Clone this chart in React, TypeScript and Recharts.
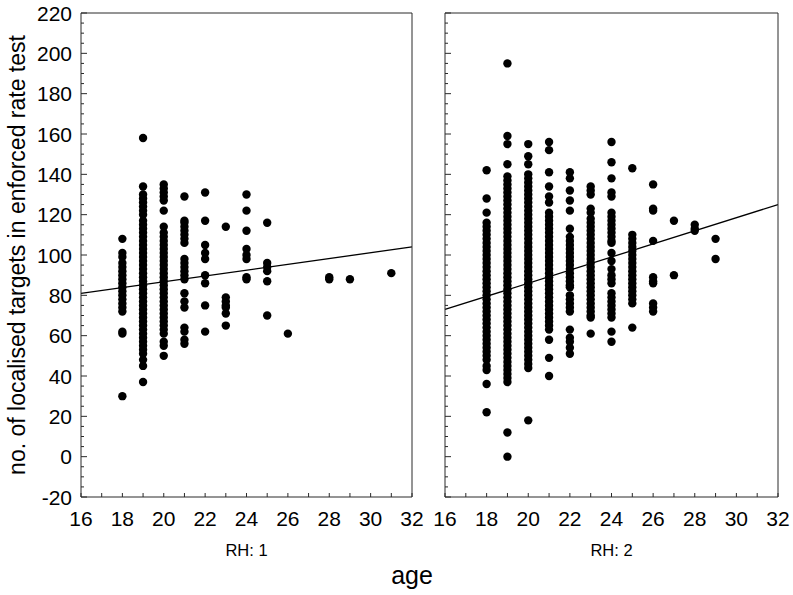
import { ScatterChart, Scatter, XAxis, YAxis, ReferenceLine } from "recharts";

const FONT = "'Liberation Sans', Arial, Helvetica, sans-serif";
const INK = "#2a2a2a";

const xTicks = [16, 17, 18, 19, 20, 21, 22, 23, 24, 25, 26, 27, 28, 29, 30, 31, 32];
const yTicks = [
  -20, -15, -10, -5, 0, 5, 10, 15, 20, 25, 30, 35, 40, 45, 50, 55, 60, 65, 70, 75, 80, 85,
  90, 95, 100, 105, 110, 115, 120, 125, 130, 135, 140, 145, 150, 155, 160, 165, 170, 175,
  180, 185, 190, 195, 200, 205, 210, 215, 220,
];

// RH: 1
const ages1 = [18, 19, 20, 21, 22, 23, 24, 25, 26, 28, 29, 31];
const scores1 = [
  [108, 101, 99, 96, 94, 92, 90, 88, 86, 84, 82, 80, 78, 76, 74, 72, 62, 61, 30],
  [158, 134, 130, 128, 126, 124, 122, 120, 117, 115, 113, 111, 109, 107, 105, 103, 101, 99, 97,
    95, 93, 91, 89, 87, 85, 83, 81, 79, 77, 75, 73, 71, 69, 67, 65, 63, 61, 59, 57, 55, 53, 51,
    48, 45, 37],
  [135, 133, 131, 129, 127, 122, 114, 111, 109, 107, 105, 103, 101, 99, 97, 95, 93, 91, 89, 87,
    85, 83, 81, 79, 77, 75, 73, 71, 69, 67, 65, 63, 61, 57, 55, 50],
  [129, 117, 116, 114, 112, 110, 108, 106, 98, 96, 94, 92, 90, 88, 81, 77, 74, 64, 62, 58, 56],
  [131, 117, 105, 101, 98, 90, 86, 75, 62],
  [114, 79, 77, 75, 74, 71, 65],
  [130, 122, 112, 103, 100, 98, 89, 88],
  [116, 96, 94, 92, 87, 70],
  [61],
  [89, 88],
  [88],
  [91],
];
const line1 = [
  { age: 16, score: 81 },
  { age: 32, score: 104 },
];

// RH: 2
const ages2 = [18, 19, 20, 21, 22, 23, 24, 25, 26, 27, 28, 29];
const scores2 = [
  [142, 128, 121, 116, 114, 112, 110, 108, 106, 104, 102, 100, 98, 96, 94, 92, 90, 88, 86, 84,
    82, 80, 78, 76, 74, 72, 70, 68, 66, 64, 62, 60, 58, 56, 54, 52, 50, 48, 45, 43, 36, 22],
  [195, 159, 155, 145, 139, 137, 135, 133, 131, 129, 127, 125, 123, 121, 119, 117, 115, 113,
    111, 109, 107, 105, 103, 101, 99, 97, 95, 93, 91, 89, 87, 85, 83, 81, 79, 77, 75, 73, 71,
    69, 67, 65, 63, 61, 59, 57, 55, 53, 51, 49, 47, 45, 43, 41, 39, 37, 12, 0],
  [155, 149, 145, 140, 138, 136, 134, 132, 130, 128, 126, 124, 122, 120, 118, 116, 114, 112,
    110, 108, 106, 104, 102, 100, 98, 96, 94, 92, 90, 88, 86, 84, 82, 80, 78, 76, 74, 72, 70,
    68, 66, 64, 62, 60, 58, 56, 54, 52, 50, 48, 46, 44, 18],
  [156, 152, 141, 134, 129, 126, 121, 119, 117, 115, 113, 111, 109, 107, 105, 103, 101, 99, 97,
    95, 93, 91, 89, 87, 85, 83, 81, 79, 77, 75, 73, 71, 69, 67, 65, 63, 58, 49, 40],
  [141, 138, 132, 127, 122, 113, 109, 107, 105, 103, 101, 99, 97, 95, 93, 91, 89, 87, 85, 84,
    80, 78, 76, 74, 72, 63, 59, 57, 54, 51],
  [134, 132, 130, 123, 121, 118, 116, 114, 112, 110, 108, 106, 104, 102, 100, 98, 96, 94, 92,
    90, 88, 86, 84, 82, 80, 78, 76, 74, 72, 70, 69, 61],
  [156, 146, 138, 131, 129, 121, 119, 117, 115, 113, 111, 109, 107, 106, 101, 97, 93, 90, 88,
    86, 81, 79, 77, 75, 73, 71, 69, 62, 57],
  [143, 110, 108, 106, 104, 102, 100, 98, 96, 94, 92, 90, 88, 86, 84, 82, 80, 78, 76, 64],
  [135, 123, 122, 107, 89, 87, 86, 76, 74, 72],
  [117, 90],
  [115, 113, 112],
  [108, 98],
];
const line2 = [
  { age: 16, score: 73 },
  { age: 32, score: 125 },
];

const points1 = ages1.flatMap((age, i) => scores1[i].map((score) => ({ age, score })));
const points2 = ages2.flatMap((age, i) => scores2[i].map((score) => ({ age, score })));

function Dot(props: any) {
  if (props.cx == null || props.cy == null) return null;
  return <circle cx={props.cx} cy={props.cy} r={4.2} fill="#000" />;
}

function YTick(props: any) {
  const { x, y, payload, side, labels } = props;
  const v = payload.value;
  const major = v % 20 === 0;
  const len = major ? 6 : 3;
  const dir = side === "left" ? 1 : -1;
  return (
    <g>
      <line x1={x} x2={x + dir * len} y1={y} y2={y} stroke={INK} />
      {labels && major && (
        <text x={x - 9} y={y} dy="0.36em" textAnchor="end" fontSize={21} fontFamily={FONT} fill="#000">
          {v}
        </text>
      )}
    </g>
  );
}

interface PanelProps {
  points: { age: number; score: number }[];
  line: { age: number; score: number }[];
  left: number;
  width: number;
  marginLeft: number;
  marginRight: number;
  yAxisWidth: number;
  labels: boolean;
}

function Panel({ points, line, left, width, marginLeft, marginRight, yAxisWidth, labels }: PanelProps) {
  return (
    <div style={{ position: "absolute", left, top: 0 }}>
      <ScatterChart
        width={width}
        height={595}
        margin={{ top: 12, right: marginRight, bottom: 0, left: marginLeft }}
      >
        <XAxis
          xAxisId="bottom"
          type="number"
          dataKey="age"
          domain={[16, 32]}
          ticks={xTicks}
          interval={0}
          height={98}
          tickSize={-4}
          tickMargin={18}
          axisLine={{ stroke: INK }}
          tickLine={{ stroke: INK }}
          tick={{ fontSize: 21, fill: "#000", fontFamily: FONT }}
          tickFormatter={(v: number) => (v % 2 === 0 ? String(v) : "")}
        />
        <XAxis
          xAxisId="top"
          orientation="top"
          type="number"
          domain={[16, 32]}
          ticks={xTicks}
          interval={0}
          height={1}
          tickSize={-4}
          axisLine={{ stroke: INK }}
          tickLine={{ stroke: INK }}
          tick={false}
        />
        <YAxis
          yAxisId="left"
          type="number"
          dataKey="score"
          domain={[-20, 220]}
          ticks={yTicks}
          interval={0}
          width={yAxisWidth}
          tickSize={0}
          tickMargin={0}
          tickLine={false}
          axisLine={{ stroke: INK }}
          tick={(p: any) => <YTick {...p} side="left" labels={labels} />}
        />
        <YAxis
          yAxisId="right"
          orientation="right"
          type="number"
          domain={[-20, 220]}
          ticks={yTicks}
          interval={0}
          width={1}
          tickSize={0}
          tickMargin={0}
          tickLine={false}
          axisLine={{ stroke: INK }}
          tick={(p: any) => <YTick {...p} side="right" labels={false} />}
        />
        <ReferenceLine
          xAxisId="bottom"
          yAxisId="left"
          segment={[
            { x: line[0].age, y: line[0].score },
            { x: line[1].age, y: line[1].score },
          ]}
          stroke="#000"
          strokeWidth={1.3}
        />
        <Scatter xAxisId="bottom" yAxisId="left" data={points} shape={Dot} isAnimationActive={false} />
      </ScatterChart>
    </div>
  );
}

export default function App() {
  return (
    <div style={{ position: "absolute", left: 0, top: 0, width: 793, height: 595, background: "#fff" }}>
      <Panel points={points1} line={line1} left={0} width={440} marginLeft={0} marginRight={27} yAxisWidth={81} labels />
      <Panel points={points2} line={line2} left={420} width={373} marginLeft={24} marginRight={14} yAxisWidth={1} labels={false} />
      <svg width={793} height={595} style={{ position: "absolute", left: 0, top: 0, pointerEvents: "none" }}>
        <text transform="translate(25,255) rotate(-90)" textAnchor="middle" fontSize={23} fontFamily={FONT} fill="#000">
          no. of localised targets in enforced rate test
        </text>
        <text x={246.5} y={556} textAnchor="middle" fontSize={16.5} fontFamily={FONT} fill="#000">
          RH: 1
        </text>
        <text x={611.5} y={556} textAnchor="middle" fontSize={16.5} fontFamily={FONT} fill="#000">
          RH: 2
        </text>
        <text x={412} y={584} textAnchor="middle" fontSize={25} fontFamily={FONT} fill="#000">
          age
        </text>
      </svg>
    </div>
  );
}
